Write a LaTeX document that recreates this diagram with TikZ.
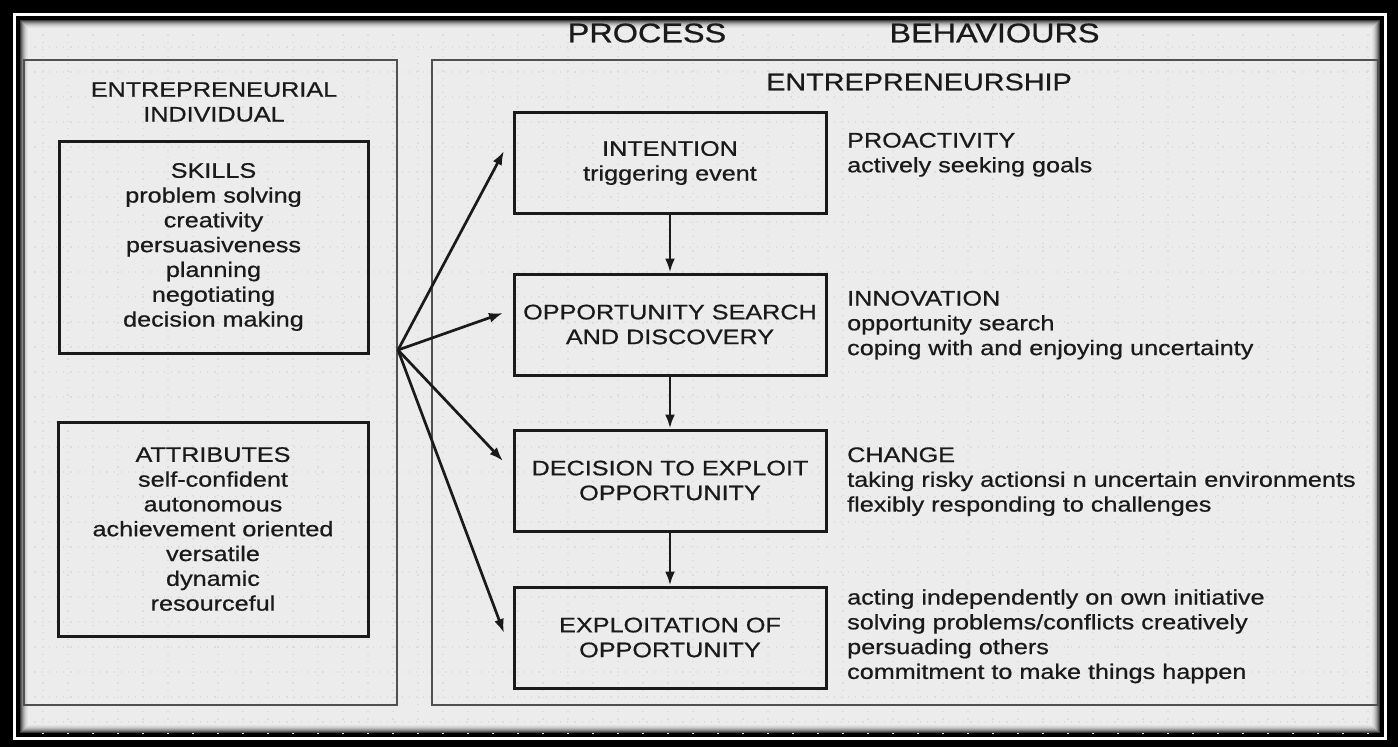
\documentclass[tikz,border=0pt]{standalone}
\usepackage{fontspec}
\setmainfont{Liberation Sans}[FakeStretch=1.2, FakeBold=0.7]
\usetikzlibrary{arrows.meta}
\definecolor{panelbg}{HTML}{ECECEC}
\definecolor{griddot}{HTML}{DCDCDC}
\definecolor{ink}{HTML}{1A1A1A}
\definecolor{rulegray}{HTML}{505050}

\begin{document}
\begin{tikzpicture}[x=1pt,y=-1pt,
  body/.style={font=\fontsize{21}{24.8}\selectfont, text=ink},
  heading/.style={font=\fontsize{27}{30}\selectfont, text=ink},
  listbox/.style={draw=ink, line width=3pt, inner sep=0pt, align=center, body},
  stagebox/.style={draw=ink, line width=3pt, inner sep=0pt, align=center,
    minimum width=312pt, minimum height=101pt, body},
  behaviour/.style={body, anchor=base west, text width=540pt, align=left, inner sep=0pt},
  flow/.style={draw=ink, line width=2.7pt, -{Latex[length=14pt,width=10pt]}},
  panel/.style={draw=rulegray, line width=2.5pt}
]
\useasboundingbox (0,0) rectangle (1398,747);

% outer frame: black band, white rule, thin black rule
\fill[black] (0,0) rectangle (1398,747);
\draw[white, line width=3pt] (14.5,14.5) rectangle (1385.5,738.5);
\fill[panelbg] (20,20) rectangle (1380,733);

% faint dotted grid on the panel
\begin{scope}
  \clip (20,20) rectangle (1380,733);
  \foreach \gx in {18,43,...,1380}
    \draw[griddot, line width=1.1pt, dash pattern=on 1.2pt off 6pt] (\gx,20) -- (\gx,733);
  \foreach \gy in {22,47,...,733}
    \draw[griddot, line width=1.1pt, dash pattern=on 1.2pt off 6pt] (20,\gy) -- (1380,\gy);
\end{scope}

% inset shadow along the inner edge
\foreach \i/\k in {0/75,1/58,2/44,3/32,4/22,5/14,6/8,7/4}
  \draw[black!\k!panelbg, line width=1pt]
    ({20.5+\i},{20.5+\i}) rectangle ({1379.5-\i},{732.5-\i});

% the two panels
\draw[panel] (24,60) rectangle (397,705);
\draw[panel] (432,60) rectangle (1378,705);

% headings
\node[heading] (process) at (647,33) {PROCESS};
\node[heading] (behaviours) at (994.5,33) {BEHAVIOURS};
\node[font=\fontsize{24}{28}\selectfont, text=ink] (entre) at (919,82) {ENTREPRENEURSHIP};
\node[body, align=center] (indiv) at (214,102) {ENTREPRENEURIAL\\INDIVIDUAL};

% individual: skills and attributes
\node[listbox, minimum width=309pt, minimum height=212pt] (skills) at (213.5,247)
  {SKILLS\\problem solving\\creativity\\persuasiveness\\planning\\negotiating\\decision making};
\node[listbox, minimum width=310pt, minimum height=214pt] (attributes) at (213,529)
  {ATTRIBUTES\\self-confident\\autonomous\\achievement oriented\\versatile\\dynamic\\resourceful};

% process stages
\node[stagebox] (intention) at (670,163) {INTENTION\\triggering event};
\node[stagebox] (search) at (670,324.5) {OPPORTUNITY SEARCH\\AND DISCOVERY};
\node[stagebox] (decision) at (670,480.5) {DECISION TO EXPLOIT\\OPPORTUNITY};
\node[stagebox] (exploit) at (670,637.5) {EXPLOITATION OF\\OPPORTUNITY};

\draw[flow] (intention) -- (search);
\draw[flow] (search) -- (decision);
\draw[flow] (decision) -- (exploit);

% fan of arrows from the individual to every stage
\coordinate (hub) at (398,350);
\coordinate (t1) at (504,151);
\coordinate (t2) at (503,313);
\coordinate (t3) at (503,461);
\coordinate (t4) at (504,633);
\draw[flow] (hub) -- (t1);
\draw[flow] (hub) -- (t2);
\draw[flow] (hub) -- (t3);
\draw[flow] (hub) -- (t4);

% behaviours
\node[behaviour] (proact) at (847,147.5) {PROACTIVITY\\actively seeking goals};
\node[behaviour] (innov) at (847,305.5) {INNOVATION\\opportunity search\\coping with and enjoying uncertainty};
\node[behaviour] (change) at (847,462) {CHANGE\\taking risky actionsi n uncertain environments\\flexibly responding to challenges};
\node[behaviour] (acting) at (847,604.5) {acting independently on own initiative\\solving problems/conflicts creatively\\persuading others\\commitment to make things happen};
\end{tikzpicture}
\end{document}
